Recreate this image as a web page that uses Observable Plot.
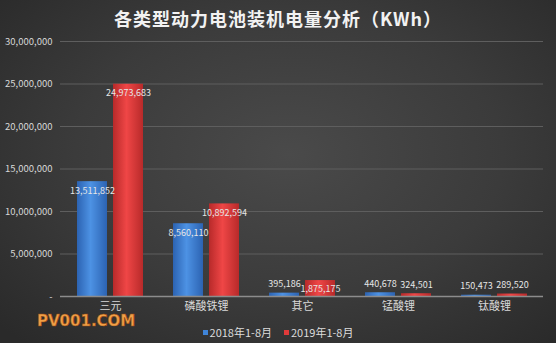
<!DOCTYPE html>
<html>
<head>
<meta charset="utf-8">
<script src="https://cdn.jsdelivr.net/npm/d3@7"></script>
<script src="https://cdn.jsdelivr.net/npm/@observablehq/plot@0.6"></script>
<style>
  html, body { margin: 0; padding: 0; }
  body {
    width: 556px; height: 343px; overflow: hidden; position: relative;
    background: radial-gradient(ellipse 70% 75% at 52% 45%, #4a4a4a 0%, #3b3b3b 55%, #2a2a2a 100%);
    font-family: "Noto Sans CJK SC", "Noto Sans", sans-serif;
  }
  #title {
    height: 34px; line-height: 37px; text-align: center; color: #f2f2f2;
    font-size: 18px; font-weight: bold; letter-spacing: 1px;
  }
  #chart svg { display: block; }
  g[aria-label="x-axis"] text, g[aria-label="x-axis tick label"] text { font-size: 11px; }
  #legend {
    height: 16px; line-height: 16px; text-align: center; color: #dcdcdc; font-size: 11px;
  }
  #legend span.item { margin: 0 6px; }
  #legend i { display: inline-block; width: 5px; height: 5px; margin-right: 2px; vertical-align: 2px; }
  #wm {
    position: absolute; left: 37px; top: 314px; line-height: 14px; font-family: "DejaVu Sans", sans-serif;
    font-weight: bold; font-size: 15px; color: #f0a048; -webkit-text-stroke: 0.6px #9a4a10;
  }
</style>
</head>
<body>
<div id="title">各类型动力电池装机电量分析（KWh）</div>
<div id="chart"></div>
<div id="legend"></div>
<div id="wm">PV001.COM</div>
<script>
const categories = ["三元", "磷酸铁锂", "其它", "锰酸锂", "钛酸锂"];
const series = ["2018年1-8月", "2019年1-8月"];
const values2018 = [13511852, 8560110, 395186, 440678, 150473];
const values2019 = [24973683, 10892594, 1875175, 324501, 289520];
const yTicks = [0, 5000000, 10000000, 15000000, 20000000, 25000000, 30000000];
const colors = ["#3f84d8", "#e03a3a"];

const rows2018 = categories.map((c, i) => ({cat: c, s: series[0], v: values2018[i]}));
const rows2019 = categories.map((c, i) => ({cat: c, s: series[1], v: values2019[i]}));
const fmt = d3.format(",");

const labelMarks = (rows, dx) => [
  Plot.text(rows.filter(d => d.v > 1e6), {x: "cat", y: "v", text: d => fmt(d.v), dx, dy: 9, fill: "#e6e6e6", fontSize: 9}),
  Plot.text(rows.filter(d => d.v <= 1e6), {x: "cat", y: "v", text: d => fmt(d.v), dx, dy: -9, fill: "#e6e6e6", fontSize: 9})
];

const plot = Plot.plot({
  width: 556,
  height: 290,
  marginTop: 7,
  marginBottom: 28,
  marginLeft: 60,
  marginRight: 13,
  style: {background: "transparent", color: "#d8d8d8", fontSize: "9.5px", fontFamily: "'Noto Sans CJK SC', 'Noto Sans', sans-serif"},
  x: {domain: categories, paddingInner: 0.69, paddingOuter: 0.345, tickSize: 0, tickPadding: 6, label: null},
  y: {domain: [0, 30000000], ticks: yTicks, tickFormat: d => d === 0 ? "-" : fmt(d), tickSize: 0, tickPadding: 8, label: null},
  marks: [
    Plot.ruleY(yTicks.slice(1), {stroke: "#5e5e5e", strokeWidth: 1}),
    Plot.barY(rows2018, {x: "cat", y: "v", fill: "url(#gBlue)", dx: -18}),
    Plot.barY(rows2019, {x: "cat", y: "v", fill: "url(#gRed)", dx: 18}),
    Plot.ruleY([0], {stroke: "#8c8c8c", strokeWidth: 1.5}),
    ...labelMarks(rows2018, -18),
    ...labelMarks(rows2019, 18)
  ]
});

const ns = "http://www.w3.org/2000/svg";
const defs = document.createElementNS(ns, "defs");
function grad(id, edge, mid) {
  const g = document.createElementNS(ns, "linearGradient");
  g.setAttribute("id", id);
  g.setAttribute("x1", "0"); g.setAttribute("x2", "1"); g.setAttribute("y1", "0"); g.setAttribute("y2", "0");
  [[0, edge], [0.45, mid], [1, edge]].forEach(([o, c]) => {
    const s = document.createElementNS(ns, "stop");
    s.setAttribute("offset", o); s.setAttribute("stop-color", c);
    g.appendChild(s);
  });
  defs.appendChild(g);
}
grad("gBlue", "#2c63b2", "#4d92e4");
grad("gRed", "#b82a2a", "#ef4646");
plot.insertBefore(defs, plot.firstChild);
document.getElementById("chart").appendChild(plot);

const legend = document.getElementById("legend");
series.forEach((s, i) => {
  const span = document.createElement("span");
  span.className = "item";
  const m = document.createElement("i");
  m.style.background = colors[i];
  span.appendChild(m);
  span.appendChild(document.createTextNode(s));
  legend.appendChild(span);
});
</script>
</body>
</html>
